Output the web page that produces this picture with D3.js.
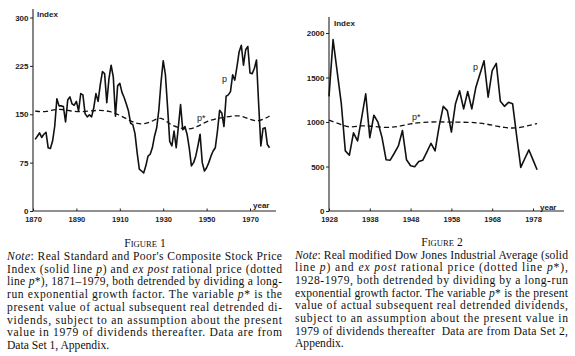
<!DOCTYPE html>
<html><head><meta charset="utf-8">
<script src="https://cdn.jsdelivr.net/npm/d3@7/dist/d3.min.js"></script>
<style>
html,body{margin:0;padding:0;background:#fff;}
svg{display:block;}
.cap{font-family:"Liberation Serif","Times New Roman",serif;font-size:11.6px;fill:#111;}
.tk{font-family:"Liberation Sans",Arial,sans-serif;font-size:7.5px;font-weight:bold;fill:#222;}
.tky{font-family:"Liberation Sans",Arial,sans-serif;font-size:8px;font-weight:bold;fill:#222;}
.lab{font-family:"Liberation Sans",Arial,sans-serif;font-size:8px;font-weight:bold;fill:#222;}
</style></head>
<body>
<svg id="c" width="575" height="356"></svg>
<script>
// ---------- Figure 1: S&P Composite (1871-1979) ----------
const fig1StartYear = 1871;
const fig1P = [111,116,121,114,119,122,98,97,108,131,
  174,163,163,162,138,172,177,166,164,170,
  155,182,180,151,146,149,146,160,182,170,
  196,216,213,168,205,226,208,147,194,198,
  184,176,166,155,136,134,120,90,65,62,
  59,70,85,88,98,116,129,157,200,233,
  212,162,108,101,124,98,131,165,126,131,
  119,98,70,75,85,101,119,75,62,67,
  75,85,93,98,124,156,152,131,178,180,
  185,211,203,224,247,257,226,250,255,214,
  213,221,234,165,101,128,129,103,98];
const fig1StarYears = [1871,1876,1882,1890,1900,1905,1910,1915,1920,1925,1929,1933,1937,1942,1946,1950,1955,1960,1965,1970,1973,1976,1979];
const fig1Star =      [155,153,160,152,157,155,149,139,133,139,147,134,129,126,131,139,144,146,149,142,139,142,147];
const fig1YTicks = [0,75,150,225,300];
const fig1XTicks = [1870,1890,1910,1930,1950,1970];

// ---------- Figure 2: Dow Jones (1928-1979) ----------
const fig2StartYear = 1928;
const fig2P = [1288,1926,1566,1213,675,627,879,787,1046,1317,
  824,1076,998,824,575,571,649,731,905,575,
  508,497,557,571,664,761,675,954,1176,1128,
  887,1206,1351,1147,1343,1147,1391,1540,1688,1280,
  1577,1659,1232,1176,1221,1206,842,490,590,686,
  575,464];
const fig2StarYears = [1928,1931,1933,1936,1938,1942,1945,1948,1951,1955,1958,1962,1965,1968,1971,1974,1977,1979];
const fig2Star =      [1020,972,935,961,954,935,946,983,998,1002,998,998,990,965,935,928,961,983];
const fig2YTicks = [0,500,1000,1500,2000];
const fig2XTicks = [1928,1938,1948,1958,1968,1978];

const svg = d3.select("#c");
svg.append("rect").attr("width",575).attr("height",356).attr("fill","#fff");

function panel(o){
  const x = d3.scaleLinear().domain(o.xd).range(o.xr);
  const y = d3.scaleLinear().domain(o.yd).range(o.yr);
  const g = svg.append("g");
  g.append("line").attr("x1",o.xr[0]).attr("x2",o.xr[0]).attr("y1",o.yr[0]).attr("y2",o.yTop)
    .attr("stroke","#222").attr("stroke-width",1.1);
  g.append("line").attr("x1",o.xr[0]).attr("x2",o.xEnd).attr("y1",o.yr[0]).attr("y2",o.yr[0])
    .attr("stroke","#222").attr("stroke-width",1.1);
  const ya = d3.axisLeft(y).tickValues(o.yTicks).tickSize(3).tickPadding(1.5).tickFormat(d3.format("d"));
  const yg = g.append("g").attr("transform",`translate(${o.xr[0]},0)`).call(ya);
  yg.select(".domain").remove();
  yg.selectAll("text").attr("class","tky").attr("fill","#222");
  yg.selectAll("line").attr("stroke","#222");
  const xa = d3.axisBottom(x).tickValues(o.xTicks).tickSize(-2.5).tickPadding(6).tickFormat(d3.format("d"));
  const xg = g.append("g").attr("transform",`translate(0,${o.yr[0]})`).call(xa);
  xg.select(".domain").remove();
  xg.selectAll("text").attr("class","tk").attr("fill","#222");
  xg.selectAll("line").attr("stroke","#222");

  const pData = o.p.map((v,i)=>[o.start+i, v]);
  const sData = o.sy.map((yr,i)=>[yr, o.s[i]]);
  g.append("path").datum(sData).attr("fill","none").attr("stroke","#111").attr("stroke-width",1.3)
    .attr("stroke-dasharray","5,3")
    .attr("d", d3.line().x(d=>x(d[0])).y(d=>y(d[1])).curve(d3.curveBasis));
  g.append("path").datum(pData).attr("fill","none").attr("stroke","#111").attr("stroke-width",1.6)
    .attr("stroke-linejoin","round").attr("d", d3.line().x(d=>x(d[0])).y(d=>y(d[1])));

  g.append("text").attr("class","lab").attr("x",o.idx[0]).attr("y",o.idx[1]).text("Index");
  g.append("text").attr("class","lab").attr("x",o.yr_[0]).attr("y",o.yr_[1]).text("year");
  g.append("text").attr("class","lab").style("font-size","9px").style("font-weight","normal").attr("x",o.pl[0]).attr("y",o.pl[1]).text("p");
  g.append("text").attr("class","lab").style("font-size","9px").style("font-weight","normal").attr("x",o.sl[0]).attr("y",o.sl[1]).text("p*");
}

panel({xd:[1870,1970], xr:[33,250], yd:[0,300], yr:[211,17.5], yTop:9, xEnd:276,
  yTicks:fig1YTicks, xTicks:fig1XTicks, p:fig1P, start:fig1StartYear, sy:fig1StarYears, s:fig1Star,
  idx:[37,17], yr_:[253,208], pl:[222,82], sl:[197,121]});
panel({xd:[1928,1978], xr:[329,533], yd:[0,2000], yr:[211,33], yTop:17, xEnd:564,
  yTicks:fig2YTicks, xTicks:fig2XTicks, p:fig2P, start:fig2StartYear, sy:fig2StarYears, s:fig2Star,
  idx:[334,26], yr_:[540,210], pl:[473,70], sl:[412,120]});

// ---------- Captions ----------
function caption(num, cx, x0, x1, y0, lines){
  const t = svg.append("text").attr("class","cap").attr("x",cx).attr("y",y0).attr("text-anchor","middle");
  t.append("tspan").text("F");
  t.append("tspan").style("font-size","8.6px").text("IGURE");
  t.append("tspan").text(" " + num);
  lines.forEach((ln,i)=>{
    const tt = svg.append("text").attr("class","cap").attr("x",x0).attr("y",y0+13+i*12.7)
      .attr("xml:space","preserve");
    if(i < lines.length-1) tt.attr("textLength", x1-x0).attr("lengthAdjust","spacing");
    ln.forEach(seg=>{
      const s = tt.append("tspan").text(seg[0]);
      if(seg[1]) s.style("font-style","italic");
    });
  });
}
caption(1, 145, 7, 282, 247, [
  [["Note",1],[": Real Standard and Poor's Composite Stock Price"]],
  [["Index (solid line "],["p",1],[") and "],["ex post",1],[" rational price (dotted"]],
  [["line "],["p",1],["*), 1871\u20131979, both detrended by dividing a long-"]],
  [["run exponential growth factor. The variable "],["p",1],["* is the"]],
  [["present value of actual subsequent real detrended di-"]],
  [["vidends, subject to an assumption about the present"]],
  [["value in 1979 of dividends thereafter. Data are from"]],
  [["Data Set 1, Appendix."]]
]);
caption(2, 442, 295, 568, 245.5, [
  [["Note",1],[": Real modified Dow Jones Industrial Average (solid"]],
  [["line "],["p",1],[") and "],["ex post",1],[" rational price (dotted line "],["p",1],["*),"]],
  [["1928-1979, both detrended by dividing by a long-run"]],
  [["exponential growth factor. The variable "],["p",1],["* is the present"]],
  [["value of actual subsequent real detrended dividends,"]],
  [["subject to an assumption about the present value in"]],
  [["1979 of dividends thereafter  Data are from Data Set 2,"]],
  [["Appendix."]]
]);
</script>
</body></html>
